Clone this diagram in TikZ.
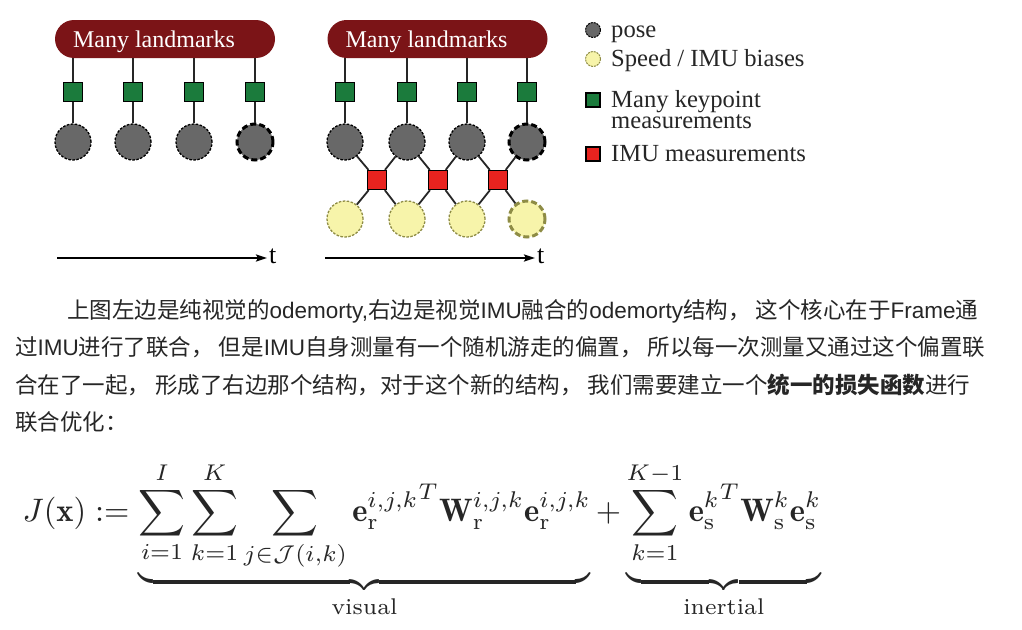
\documentclass[tikz,border=0pt]{standalone}
\usepackage{amsmath}
\usepackage{fontspec}
\newfontfamily\cjk{Noto Sans CJK SC}
\newfontfamily\lat{Liberation Sans}
\newfontfamily\ser{Liberation Serif}
\usetikzlibrary{arrows.meta}
\definecolor{lmred}{HTML}{7B1417}
\definecolor{kpgreen}{HTML}{1B7B3C}
\definecolor{imured}{HTML}{E8231F}
\definecolor{posegray}{HTML}{686868}
\definecolor{biasyel}{HTML}{F7F4AA}
\definecolor{biasedge}{HTML}{8E8C45}
\definecolor{txt}{HTML}{262626}
\begin{document}
\begin{tikzpicture}[x=1pt,y=-1pt,
  lmbox/.style={rectangle, rounded corners=19pt, fill=lmred, minimum width=220pt, minimum height=38pt, inner sep=0pt, text=white, text height=16pt, text depth=0pt, font=\ser\fontsize{24}{24}\selectfont},
  kp/.style={rectangle, fill=kpgreen, draw=black, line width=1.2pt, minimum size=19pt, inner sep=0pt},
  imu/.style={kp, fill=imured},
  posec/.style={circle, fill=posegray, draw=black, line width=1.3pt, dash pattern=on 2.5pt off 1.5pt, minimum size=36pt, inner sep=0pt},
  posel/.style={posec, line width=3pt, dash pattern=on 6pt off 3pt},
  bias/.style={circle, fill=biasyel, draw=biasedge, line width=1.3pt, dash pattern=on 2.5pt off 1.5pt, minimum size=36pt, inner sep=0pt},
  biasl/.style={bias, line width=3pt, dash pattern=on 6pt off 3pt},
  conn/.style={draw=black!85, line width=1.8pt},
  timeax/.style={line width=2pt, -{Stealth[length=11pt,width=7pt,inset=2pt]}},
  tlab/.style={anchor=base west, inner sep=0pt, font=\ser\fontsize{26}{26}\selectfont},
  legtxt/.style={anchor=base west, inner sep=0pt, text=txt, font=\ser\fontsize{24.6}{24.6}\selectfont},
  lgpose/.style={posec, minimum size=15pt, line width=1pt, dash pattern=on 2pt off 1pt},
  lgbias/.style={bias, minimum size=15pt, line width=1pt, dash pattern=on 2pt off 1pt},
  lgkp/.style={kp, minimum size=14pt},
  lgimu/.style={imu, minimum size=14pt},
  para/.style={anchor=base west, inner sep=0pt, text=txt, font=\cjk\fontsize{22.5}{22.5}\selectfont}
]
\useasboundingbox (0,0) rectangle (1022,629);
\fill[white] (0,0) rectangle (1022,629);

% ---------- left diagram ----------
\node[lmbox] (L1) at (165,39) {\hspace*{-22pt}Many landmarks};
\foreach \i/\x in {1/73,2/133,3/194,4/255} {
  \node[kp] (ka\i) at (\x,92) {};
}
\node[posec] (pa1) at (73,142) {};
\node[posec] (pa2) at (133,142) {};
\node[posec] (pa3) at (194,142) {};
\node[posel] (pa4) at (255,142) {};
\foreach \i in {1,...,4} {
  \draw[conn] (ka\i.north |- L1.south) -- (ka\i.north);
  \draw[conn] (ka\i) -- (pa\i);
}
\coordinate (sa) at (57,258);
\coordinate (ea) at (267,258);
\draw[timeax] (sa) -- (ea);
\node[tlab] (ta) at (269,263) {t};

% ---------- right diagram ----------
\node[lmbox] (L2) at (437.5,39) {\hspace*{-22pt}Many landmarks};
\foreach \i/\x in {1/345,2/407,3/467,4/527} {
  \node[kp] (kb\i) at (\x,92) {};
}
\node[posec] (pb1) at (345,142) {};
\node[posec] (pb2) at (407,142) {};
\node[posec] (pb3) at (467,142) {};
\node[posel] (pb4) at (527,142) {};
\node[bias] (bb1) at (345,219) {};
\node[bias] (bb2) at (407,219) {};
\node[bias] (bb3) at (467,219) {};
\node[biasl] (bb4) at (527,219) {};
\node[imu] (rb1) at (377,180) {};
\node[imu] (rb2) at (438,180) {};
\node[imu] (rb3) at (498,180) {};
\foreach \i in {1,...,4} {
  \draw[conn] (kb\i.north |- L2.south) -- (kb\i.north);
  \draw[conn] (kb\i) -- (pb\i);
}
\foreach \i/\j in {1/2,2/3,3/4} {
  \draw[conn] (pb\i) -- (rb\i);
  \draw[conn] (rb\i) -- (pb\j);
  \draw[conn] (rb\i) -- (bb\i);
  \draw[conn] (rb\i) -- (bb\j);
}
\coordinate (sb) at (325,258);
\coordinate (eb) at (535,258);
\draw[timeax] (sb) -- (eb);
\node[tlab] (tb) at (537,263) {t};

% ---------- legend ----------
\node[lgpose] (g1) at (593,30) {};
\node[legtxt] (g1t) at (611,37) {pose};
\node[lgbias] (g2) at (593,59) {};
\node[legtxt] (g2t) at (611,66) {Speed / IMU biases};
\node[lgkp] (g3) at (593,100) {};
\node[legtxt] (g3t) at (611,107) {Many keypoint};
\node[legtxt] (g3u) at (611,128) {measurements};
\node[lgimu] (g4) at (593,154) {};
\node[legtxt] (g4t) at (611,161) {IMU measurements};

% ---------- paragraph ----------
\node[para] (p1) at (67,318) {上图左边是纯视觉的{\lat odemorty,}右边是视觉{\lat IMU}融合的{\lat odemorty}结构， 这个核心在于{\lat Frame}通};
\node[para] (p2) at (15,355) {过{\lat IMU}进行了联合， 但是{\lat IMU}自身测量有一个随机游走的偏置， 所以每一次测量又通过这个偏置联};
\node[para] (p3) at (15,393) {合在了一起， 形成了右边那个结构，对于这个新的结构， 我们需要建立一个\textbf{统一的损失函数}进行};
\node[para] (p4) at (15,430) {联合优化：};

% ---------- formula ----------
\node[anchor=base west, inner sep=0pt, scale=3.25, text=txt] (J) at (22,521) {$\displaystyle J(\mathbf{x}) := \underbrace{\sum_{i=1}^{I}\sum_{k=1}^{K}\sum_{j\in\mathcal{J}(i,k)} {\mathbf{e}_{\mathrm{r}}^{i,j,k}}^{T}\mathbf{W}_{\mathrm{r}}^{i,j,k}\mathbf{e}_{\mathrm{r}}^{i,j,k}}_{\text{visual}} + \underbrace{\sum_{k=1}^{K-1}{\mathbf{e}_{\mathrm{s}}^{k}}^{T}\mathbf{W}_{\mathrm{s}}^{k}\mathbf{e}_{\mathrm{s}}^{k}\vphantom{\sum_{j\in\mathcal{J}(i,k)}}}_{\text{inertial}}$};
\end{tikzpicture}
\end{document}
